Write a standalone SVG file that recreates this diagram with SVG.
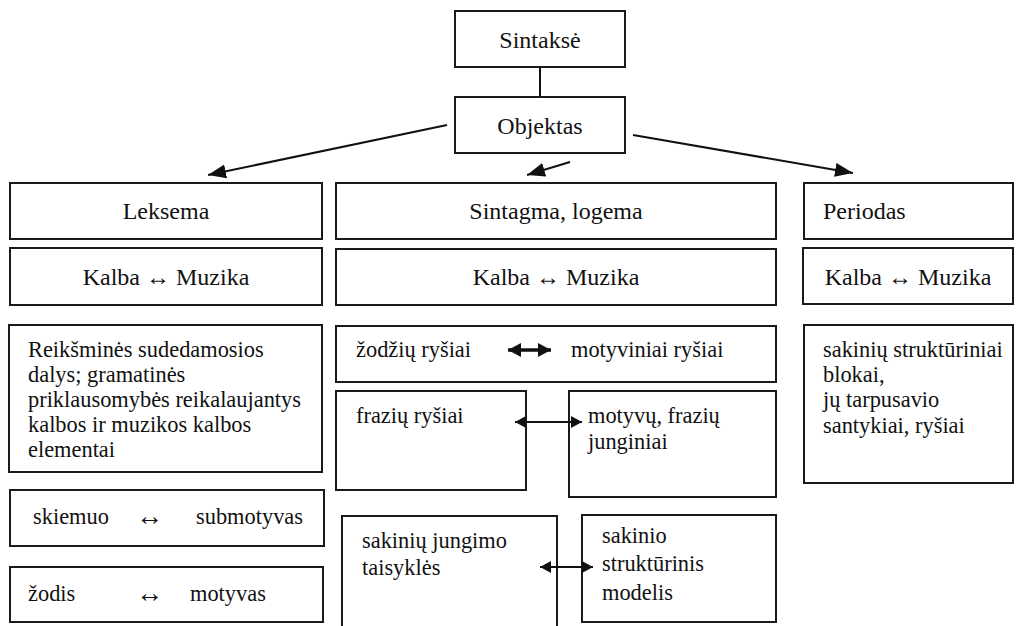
<svg xmlns="http://www.w3.org/2000/svg" width="1020" height="626" viewBox="0 0 1020 626">
<defs>
<style>
.box{fill:#fff;stroke:#1a1a1a;stroke-width:2}
.t{font-size:24px;fill:#111}
.b{font-size:22.4px}
.c{text-anchor:middle}
.ar{font-size:27px}
.ln{stroke:#111;stroke-width:2;fill:none}
.bold{stroke:#111;stroke-width:3.5;fill:none}
</style>
<marker id="ah" markerUnits="userSpaceOnUse" markerWidth="20" markerHeight="16" refX="18" refY="7" orient="auto" viewBox="0 0 20 14">
<path d="M0,0 L18,7 L0,14 Z" fill="#111"/>
</marker>
<marker id="sh" markerUnits="userSpaceOnUse" markerWidth="12" markerHeight="14" refX="11" refY="6" orient="auto-start-reverse" viewBox="0 0 12 12">
<path d="M0,0 L11,6 L0,12 Z" fill="#111"/>
</marker>
<marker id="bh" markerUnits="userSpaceOnUse" markerWidth="14" markerHeight="15" refX="13" refY="7" orient="auto-start-reverse" viewBox="0 0 14 14">
<path d="M0,0 L13,7 L0,14 Z" fill="#111"/>
</marker>
</defs>
<rect width="1020" height="626" fill="#fff"/>

<g id="nodes" font-family="Liberation Serif, Times New Roman, Times, serif">
<g id="n-sintakse"><rect class="box" x="455" y="11" width="170" height="56"/><text class="t c" x="540" y="48">Sintaksė</text></g>
<g id="n-objektas"><rect class="box" x="455" y="97" width="170" height="56"/><text class="t c" x="540" y="134">Objektas</text></g>

<g id="n-leksema"><rect class="box" x="10" y="183" width="312" height="56"/><text class="t c" x="166" y="219">Leksema</text></g>
<g id="n-sintagma"><rect class="box" x="336" y="183" width="440" height="56"/><text class="t c" x="556" y="219">Sintagma, logema</text></g>
<g id="n-periodas"><rect class="box" x="804" y="183" width="209" height="56"/><text class="t" x="823" y="219">Periodas</text></g>

<g id="n-kalba-l"><rect class="box" x="10" y="248" width="312" height="57"/><text class="t c" x="166" y="285">Kalba ↔ Muzika</text></g>
<g id="n-kalba-m"><rect class="box" x="336" y="249" width="440" height="56"/><text class="t c" x="556" y="285">Kalba ↔ Muzika</text></g>
<g id="n-kalba-r"><rect class="box" x="803" y="248" width="210" height="56"/><text class="t c" x="908" y="285">Kalba ↔ Muzika</text></g>

<g id="n-reiksmines"><rect class="box" x="9" y="325" width="313" height="147"/>
<text class="t b" x="28" y="357">Reikšminės sudedamosios</text>
<text class="t b" x="28" y="382">dalys; gramatinės</text>
<text class="t b" x="28" y="407">priklausomybės reikalaujantys</text>
<text class="t b" x="28" y="432">kalbos ir muzikos kalbos</text>
<text class="t b" x="28" y="457">elementai</text>
</g>
<g id="n-skiemuo"><rect class="box" x="10" y="490" width="314" height="56"/>
<text class="t b" x="33" y="524">skiemuo</text><text class="t ar" x="136" y="525">↔</text><text class="t b" x="196" y="524">submotyvas</text></g>
<g id="n-zodis"><rect class="box" x="10" y="567" width="313" height="55"/>
<text class="t b" x="28" y="601">žodis</text><text class="t ar" x="136" y="602">↔</text><text class="t b" x="190" y="601">motyvas</text></g>

<g id="n-zodziu"><rect class="box" x="336" y="326" width="440" height="56"/>
<text class="t b" x="356" y="357">žodžių ryšiai</text><text class="t b" x="571" y="357">motyviniai ryšiai</text></g>
<g id="n-fraziu"><rect class="box" x="336" y="391" width="190" height="99"/><text class="t b" x="356" y="423">frazių ryšiai</text></g>
<g id="n-motyvu"><rect class="box" x="569" y="391" width="207" height="106"/>
<text class="t b" x="588" y="423">motyvų, frazių</text><text class="t b" x="588" y="449">junginiai</text></g>
<g id="n-sakiniu-jungimo"><rect class="box" x="342" y="516" width="215" height="120"/>
<text class="t b" x="362" y="548">sakinių jungimo</text><text class="t b" x="362" y="575">taisyklės</text></g>
<g id="n-sakinio"><rect class="box" x="582" y="515" width="194" height="107"/>
<text class="t b" x="602" y="543">sakinio</text><text class="t b" x="602" y="571">struktūrinis</text><text class="t b" x="602" y="600">modelis</text></g>

<g id="n-periodas-text"><rect class="box" x="804" y="325" width="209" height="158"/>
<text class="t b" x="823" y="357">sakinių struktūriniai</text>
<text class="t b" x="823" y="382">blokai,</text>
<text class="t b" x="823" y="407">jų tarpusavio</text>
<text class="t b" x="823" y="433">santykiai, ryšiai</text>
</g>
</g>

<g id="connectors">
<line class="ln" x1="540" y1="67" x2="540" y2="97"/>
<line class="ln" x1="447" y1="125" x2="208" y2="175" marker-end="url(#ah)"/>
<line class="ln" x1="570" y1="162" x2="527" y2="175" marker-end="url(#ah)"/>
<line class="ln" x1="633" y1="135" x2="853" y2="173" marker-end="url(#ah)"/>
<line class="bold" x1="508" y1="350" x2="551" y2="350" marker-start="url(#bh)" marker-end="url(#bh)"/>
<line class="ln" x1="515" y1="422" x2="582" y2="422" marker-start="url(#sh)" marker-end="url(#sh)"/>
<line class="ln" x1="540" y1="567" x2="593" y2="567" marker-start="url(#sh)" marker-end="url(#sh)"/>
</g>
</svg>
